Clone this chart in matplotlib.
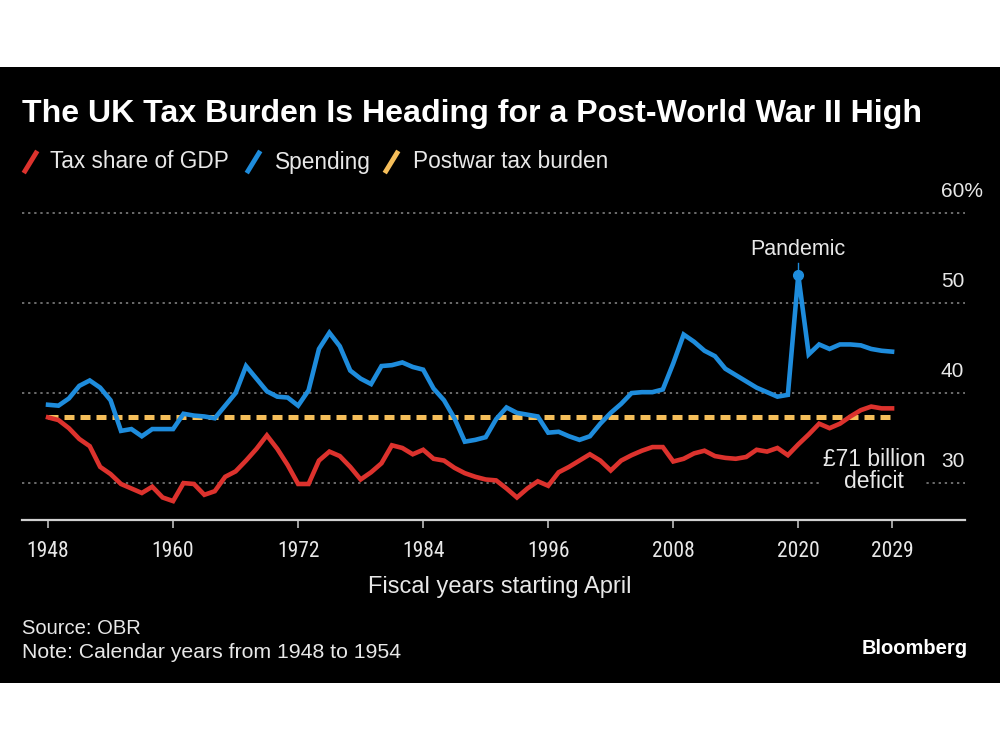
import matplotlib
matplotlib.use("Agg")
import matplotlib.pyplot as plt
from matplotlib import font_manager
from matplotlib.lines import Line2D
from matplotlib.patches import Rectangle

# --- data (% of GDP) ---
years = list(range(1948, 2030))
tax_share = [
    37.3, 37.0, 36.1, 34.9, 34.1, 31.8, 31.0, 29.9, 29.4, 28.9,
    29.6, 28.4, 28.0, 30.0, 29.9, 28.7, 29.1, 30.7, 31.3, 32.5,
    33.8, 35.3, 33.8, 32.0, 29.9, 29.9, 32.5, 33.5, 33.0, 31.8,
    30.4, 31.2, 32.2, 34.2, 33.9, 33.2, 33.7, 32.7, 32.5, 31.7,
    31.1, 30.7, 30.4, 30.3, 29.4, 28.4, 29.4, 30.2, 29.7, 31.2,
    31.8, 32.5, 33.2, 32.5, 31.4, 32.5, 33.1, 33.6, 34.0, 34.0,
    32.4, 32.7, 33.3, 33.6, 33.0, 32.8, 32.7, 32.9, 33.7, 33.5,
    33.9, 33.1, 34.3, 35.4, 36.6, 36.1, 36.6, 37.4, 38.1, 38.5,
    38.3, 38.3,
]
spending = [
    38.7, 38.6, 39.4, 40.8, 41.4, 40.6, 39.2, 35.8, 36.0, 35.2,
    36.0, 36.0, 36.0, 37.7, 37.5, 37.4, 37.2, 38.6, 40.0, 43.0,
    41.6, 40.2, 39.6, 39.5, 38.6, 40.3, 44.9, 46.7, 45.2, 42.5,
    41.6, 41.0, 43.0, 43.1, 43.4, 42.9, 42.6, 40.5, 39.2, 37.2,
    34.6, 34.8, 35.1, 37.1, 38.4, 37.8, 37.6, 37.4, 35.6, 35.7,
    35.2, 34.8, 35.2, 36.6, 37.8, 38.8, 40.0, 40.1, 40.1, 40.4,
    43.3, 46.5, 45.7, 44.7, 44.1, 42.7, 42.0, 41.3, 40.6, 40.1,
    39.6, 39.8, 53.1, 44.3, 45.4, 44.9, 45.4, 45.4, 45.3, 44.9,
    44.7, 44.6,
]
postwar_burden = 37.3
postwar_span = [1948, 2029]

tick_years = [1948, 1960, 1972, 1984, 1996, 2008, 2020, 2029]
grid_levels = [30, 40, 50, 60]
grid_labels = ["30", "40", "50", "60%"]

pandemic_year = 2020
pandemic_value = 53.1

RED = "#dc322d"
BLUE = "#1e8cdc"
YELLOW = "#f5be5a"
TEXT = "#e8e8e8"

available = {f.name for f in font_manager.fontManager.ttflist}
FONT = "Liberation Sans" if "Liberation Sans" in available else "DejaVu Sans"
NARROW = FONT
for cand in ["Liberation Sans Narrow", "Roboto Condensed", "DejaVu Sans Condensed"]:
    if cand in available:
        NARROW = cand
        break
plt.rcParams["font.family"] = [FONT, "DejaVu Sans"]

fig = plt.figure(figsize=(10, 7.5), dpi=100, facecolor="white")
# black card in the middle of the white frame
fig.patches.append(Rectangle((0, 67 / 750), 1, 616 / 750, transform=fig.transFigure,
                             facecolor="black", edgecolor="none", zorder=-10))

ax = fig.add_axes([0.022, 1 - 520 / 750, 0.943, (520 - 208.5) / 750])
ax.set_facecolor("none")
ax.set_zorder(5)
ax.set_xlim(1945.5, 2036.0)
ax.set_ylim(25.9, 60.5)

for lvl, lab in zip(grid_levels, grid_labels):
    ax.axhline(lvl, color="#8a8a8a", lw=1.1, dashes=(1.5, 2.5), zorder=1)
    ax.text(0.9745, lvl + 2.4, lab, transform=ax.get_yaxis_transform(),
            ha="left", va="center", color=TEXT, fontsize=15)

ax.plot(postwar_span, [postwar_burden, postwar_burden], color=YELLOW, lw=3.6,
        dashes=(2.0, 1.2), zorder=2)
ax.plot(years, tax_share, color=RED, lw=3.3, zorder=3, solid_joinstyle="miter")
ax.plot(years, spending, color=BLUE, lw=3.3, zorder=4, solid_joinstyle="miter")

# pandemic marker
ax.plot([pandemic_year, pandemic_year], [pandemic_value, pandemic_value + 1.3],
        color=BLUE, lw=1, zorder=4)
ax.plot(pandemic_year, pandemic_value, "o", color=BLUE, ms=7, zorder=5)
ax.text(pandemic_year, 55.9, "Pandemic", ha="center", va="center",
        color=TEXT, fontsize=15.5)
ax.text(2027.3, 31.4, "£71 billion\ndeficit", ha="center", va="center",
        multialignment="center", color=TEXT, fontsize=16.5, linespacing=0.95,
        bbox=dict(facecolor="black", edgecolor="none", pad=0.5), zorder=6)

for side in ["left", "right", "top"]:
    ax.spines[side].set_visible(False)
ax.spines["bottom"].set_color("#d0d0d0")
ax.spines["bottom"].set_linewidth(1.6)
ax.set_yticks([])
ax.set_xticks(tick_years)
ax.set_xticklabels([str(y) for y in tick_years], fontsize=15.5, color=TEXT,
                   family=[NARROW, "DejaVu Sans"])
ax.tick_params(axis="x", direction="out", length=6, width=1.2, color="#bdbdbd", pad=9)

# title and legend
fig.text(0.022, 1 - 114 / 750, "The UK Tax Burden Is Heading for a Post-World War II High",
         ha="left", va="center", color="white", fontsize=23.1, fontweight="bold")

legend_items = [("Tax share of GDP", RED, 25, 50), ("Spending", BLUE, 248, 275),
                ("Postwar tax burden", YELLOW, 386, 413)]
for label, col, x_icon, x_text in legend_items:
    fig.add_artist(Line2D([x_icon / 1000, (x_icon + 11) / 1000],
                          [1 - 171 / 750, 1 - 153 / 750], transform=fig.transFigure,
                          color=col, lw=3.5))
    fig.text(x_text / 1000, 1 - 162 / 750, label, ha="left", va="center",
             color=TEXT, fontsize=16.3)

fig.text(0.5, 1 - 587 / 750, "Fiscal years starting April", ha="center", va="center",
         color=TEXT, fontsize=17)
fig.text(0.022, 1 - 629 / 750, "Source: OBR", ha="left", va="center",
         color=TEXT, fontsize=14.5)
fig.text(0.022, 1 - 653 / 750, "Note: Calendar years from 1948 to 1954", ha="left",
         va="center", color=TEXT, fontsize=15.3)
fig.text(0.968, 1 - 648 / 750, "Bloomberg", ha="right", va="center",
         color="white", fontsize=14.5, fontweight="bold")

fig.savefig("out.png", dpi=100, facecolor="white")
